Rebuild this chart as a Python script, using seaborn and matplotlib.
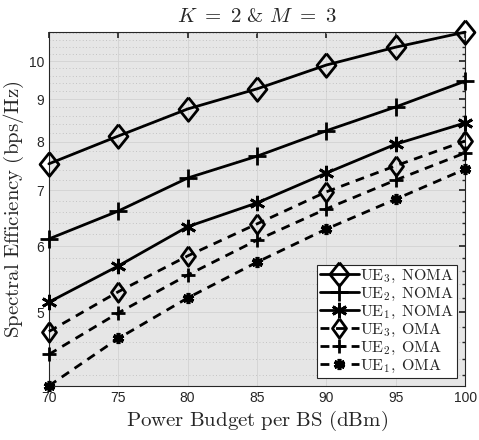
import numpy as np
import seaborn as sns
import matplotlib.pyplot as plt
from matplotlib.ticker import FixedLocator, NullFormatter

# data (spectral efficiency, bps/Hz)
power = [70, 75, 80, 85, 90, 95, 100]
ue3_noma = [7.53, 8.13, 8.76, 9.26, 9.89, 10.39, 10.83]
ue2_noma = [6.12, 6.61, 7.24, 7.69, 8.25, 8.81, 9.46]
ue1_noma = [5.14, 5.68, 6.33, 6.76, 7.34, 7.95, 8.43]
ue3_oma = [4.74, 5.29, 5.84, 6.38, 6.97, 7.49, 8.02]
ue2_oma = [4.45, 4.99, 5.54, 6.10, 6.65, 7.20, 7.76]
ue1_oma = [4.08, 4.65, 5.20, 5.74, 6.29, 6.83, 7.42]

labels = ["UE$_3$, NOMA", "UE$_2$, NOMA", "UE$_1$, NOMA",
          "UE$_3$, OMA", "UE$_2$, OMA", "UE$_1$, OMA"]
series = [ue3_noma, ue2_noma, ue1_noma, ue3_oma, ue2_oma, ue1_oma]

diamond = [(0, 1), (0.8, 0), (0, -1), (-0.8, 0), (0, 1)]
diamond_thin = [(0, 1), (0.72, 0), (0, -1), (-0.72, 0), (0, 1)]
markers = [diamond, "+", (6, 2, 0), diamond_thin, "+", (6, 2, 0)]
sizes = [17, 13, 11, 14, 10, 8]
edge_w = [2, 2, 2, 2, 2, 2.6]
styles = ["-", "-", "-", (0, (3.2, 2.4)), (0, (3.2, 2.4)), (0, (3.2, 2.4))]

sns.set_theme(style="white")
plt.rcParams["mathtext.fontset"] = "cm"
plt.rcParams["font.family"] = ["Liberation Sans", "DejaVu Sans"]

fig = plt.figure(figsize=(4.79, 4.40), dpi=100)
ax = fig.add_axes([0.102, 0.123, 0.869, 0.804])
ax.set_facecolor("#e6e6e6")

for vals, lab, mk, ms, mew, ls in zip(series, labels, markers, sizes,
                                      edge_w, styles):
    sns.lineplot(x=power, y=vals, ax=ax, color="black", linewidth=2,
                 linestyle=ls, marker=mk, markersize=ms,
                 markerfacecolor="none", markeredgecolor="black",
                 markeredgewidth=mew, label=lab, zorder=3, clip_on=False)

ax.set_yscale("log")
ax.set_xlim(70, 100)
ax.set_ylim(min(ue1_oma), max(ue3_noma))
ax.set_xticks(power)
ax.set_xticklabels([str(p) for p in power])
ax.yaxis.set_major_locator(FixedLocator([5, 6, 7, 8, 9, 10]))
ax.set_yticklabels(["5", "6", "7", "8", "9", "10"])
minor = [v / 10 for v in range(40, 110, 2) if v % 10 != 0]
ax.yaxis.set_minor_locator(FixedLocator(minor))
ax.yaxis.set_minor_formatter(NullFormatter())

ax.grid(True, which="major", color="#d2d2d2", linewidth=0.6, linestyle="-")
ax.grid(True, which="minor", axis="y", color="#b8b8b8", linewidth=0.6,
        linestyle=(0, (1, 3)))
ax.set_axisbelow(True)

ax.tick_params(which="both", direction="in", top=True, right=True,
               labelsize=10, colors="#262626", length=4)
ax.tick_params(which="minor", length=2)
for s in ax.spines.values():
    s.set_color("#262626")
    s.set_linewidth(0.8)

ax.set_title(r"$K\ =\ 2\ $&$\ M\ =\ 3$", fontsize=15, pad=7,
             family=["cmr10"])
ax.set_xlabel(r"$\mathrm{Power\ Budget\ per\ BS\ (dBm)}$", fontsize=15,
              labelpad=3)
ax.set_ylabel(r"$\mathrm{Spectral\ Efficiency\ (bps/Hz)}$", fontsize=15,
              labelpad=2)

tex_labels = [r"$\mathrm{" + lab.replace("$", "").replace(", ", r",\;") + "}$"
              for lab in labels]
leg = ax.legend(loc="lower right", frameon=True, fancybox=False,
                edgecolor="#262626", handlelength=2.4, handletextpad=0.1,
                borderpad=0.2, labelspacing=0.05, borderaxespad=0.5,
                prop={"size": 11.5}, framealpha=1)
leg.get_frame().set_linewidth(0.8)
for t, lab in zip(leg.get_texts(), tex_labels):
    t.set_text(lab)

plt.savefig("out.png", dpi=100)
